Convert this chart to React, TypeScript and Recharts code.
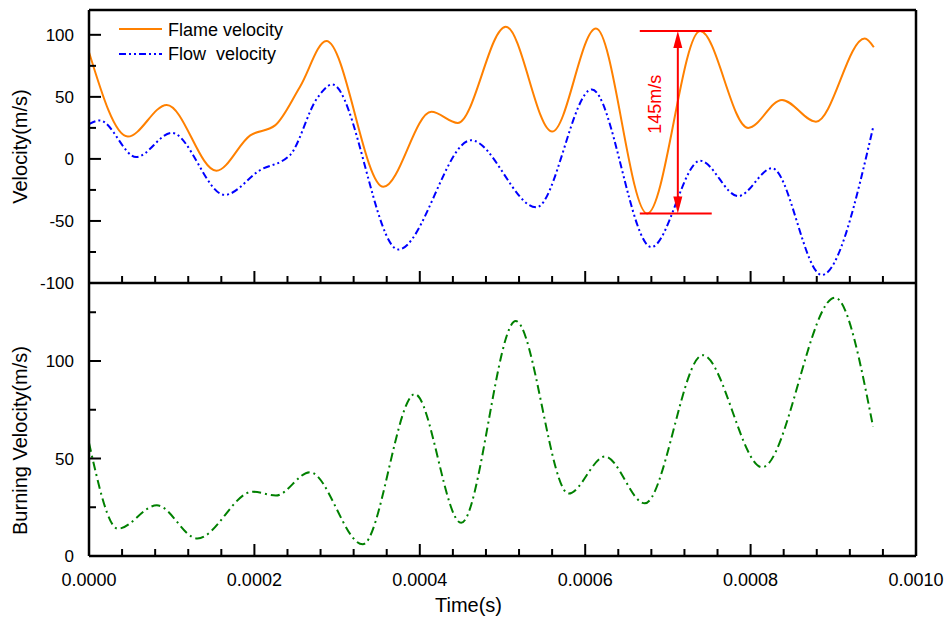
import React from "react";
import { LineChart, Line, XAxis, YAxis, ReferenceLine, Legend } from "recharts";

const FONT = '"Liberation Sans", Arial, Helvetica, sans-serif';
const ORANGE = "#FF8000";
const BLUE = "#0000FF";
const GREEN = "#008000";
const RED = "#FF0000";

// time in seconds
const FLAME_T = [0, 47e-6, 94e-6, 154e-6, 195e-6, 225e-6, 255e-6, 287e-6, 356e-6, 414e-6, 446e-6, 504e-6, 560e-6, 613e-6, 675e-6, 739e-6, 797e-6, 838e-6, 879e-6, 938e-6, 949e-6];
const FLAME_V = [86, 18, 43.5, -9.5, 19, 27, 58, 95, -22.5, 38, 29, 106.5, 22, 105, -44, 103, 25, 47.5, 30, 97, 90];

const FLOW_T = [0, 13e-6, 57e-6, 100e-6, 164e-6, 207e-6, 243e-6, 276e-6, 294e-6, 374e-6, 462e-6, 541e-6, 608e-6, 680e-6, 739e-6, 785e-6, 826e-6, 886e-6, 948e-6];
const FLOW_V = [28, 31, 1.5, 21, -29, -9, 3, 49, 60, -73, 15, -39, 56, -71, -1.5, -30, -7.5, -93.5, 25];

const BURN_T = [0, 35e-6, 82e-6, 131e-6, 198e-6, 226e-6, 267e-6, 331e-6, 394e-6, 450e-6, 516e-6, 580e-6, 624e-6, 672e-6, 742e-6, 814e-6, 902e-6, 948e-6];
const BURN_V = [58, 14, 26, 9, 33, 31, 43, 6, 83, 17, 120.5, 32, 51, 27, 103, 45.5, 132.5, 66.5];

const X_TICKS = [
  0, 0.00004, 0.00008, 0.00012, 0.00016, 0.0002, 0.00024, 0.00028, 0.00032, 0.00036,
  0.0004, 0.00044, 0.00048, 0.00052, 0.00056, 0.0006, 0.00064, 0.00068, 0.00072, 0.00076,
  0.0008, 0.00084, 0.00088, 0.00092, 0.00096, 0.001,
];
const VEL_TICKS = [-100, -75, -50, -25, 0, 25, 50, 75, 100];
const BURN_TICKS = [0, 25, 50, 75, 100, 125];

// the 145 m/s span marker
const SPAN_X = [666e-6, 753e-6];
const SPAN_Y = [103, -44];
const ARROW_X = 712e-6;
const SPAN_LABEL = "145m/s";

const flame = FLAME_T.map((t, i) => ({ t, v: FLAME_V[i] }));
const flow = FLOW_T.map((t, i) => ({ t, v: FLOW_V[i] }));
const burn = BURN_T.map((t, i) => ({ t, v: BURN_V[i] }));

const AXIS = { stroke: "#000", strokeWidth: 2.5 };

const XTick = ({ x, y, payload, index, labels }: any) => {
  const major = index % 5 === 0;
  return (
    <g>
      <line x1={x} x2={x} y1={y} y2={y - (major ? 12 : 7)} stroke="#000" strokeWidth={2} />
      {labels && major && (
        <text x={x} y={y + 30} textAnchor="middle" fontSize={18} fill="#000">
          {Number(payload.value).toFixed(4)}
        </text>
      )}
    </g>
  );
};

const YTick = ({ x, y, payload }: any) => {
  const major = payload.value % 50 === 0;
  return (
    <g>
      <line x1={x} x2={x + (major ? 12 : 7)} y1={y} y2={y} stroke="#000" strokeWidth={2} />
      {major && (
        <text x={x - 15} y={y + 6} textAnchor="end" fontSize={17} fill="#000">
          {payload.value}
        </text>
      )}
    </g>
  );
};

const yTitle = (text: string, dy: number) => (p: any) => {
  const vb = p.viewBox || {};
  const cy = (vb.y ?? 0) + (vb.height ?? 0) / 2 + dy;
  return (
    <text x={27} y={cy} transform={`rotate(-90 27 ${cy})`} textAnchor="middle" fontSize={20} fill="#000">
      {text}
    </text>
  );
};

const ArrowShape = (p: any) => {
  const x = p.x1;
  const top = Math.min(p.y1, p.y2);
  const bot = Math.max(p.y1, p.y2);
  const mid = (top + bot) / 2;
  return (
    <g>
      <line x1={x} x2={x} y1={top + 10} y2={bot - 10} stroke={RED} strokeWidth={2} />
      <polygon points={`${x},${top} ${x - 4.5},${top + 17} ${x + 4.5},${top + 17}`} fill={RED} />
      <polygon points={`${x},${bot} ${x - 4.5},${bot - 17} ${x + 4.5},${bot - 17}`} fill={RED} />
      <text x={x - 17} y={mid - 18} transform={`rotate(-90 ${x - 17} ${mid - 18})`} textAnchor="middle" fontSize={18} fill={RED}>
        {SPAN_LABEL}
      </text>
    </g>
  );
};

const LegendBox = () => (
  <svg width={200} height={52} style={{ fontFamily: FONT, display: "block" }}>
    <line x1={4} x2={47} y1={14} y2={14} stroke={ORANGE} strokeWidth={2} />
    <text x={53} y={21} fontSize={18} fill="#000">Flame velocity</text>
    <line x1={4} x2={47} y1={39} y2={39} stroke={BLUE} strokeWidth={2} strokeDasharray="7 3 2 3 2 3" />
    <text x={53} y={45} fontSize={18} fill="#000" xmlSpace="preserve" style={{ whiteSpace: "pre" }}>Flow  velocity</text>
  </svg>
);

export default function App() {
  return (
    <div style={{ position: "absolute", left: 0, top: 0, width: 949, height: 622, background: "#fff", fontFamily: FONT }}>
      <div style={{ position: "absolute", left: 0, top: 0 }}>
        <LineChart width={949} height={622} margin={{ top: 9, right: 32, bottom: 338, left: 0 }}>
          <XAxis type="number" dataKey="t" domain={[0, 0.001]} ticks={X_TICKS} interval={0} height={1} tickSize={0} tickMargin={0} tickLine={false} axisLine={AXIS} tick={(p: any) => <XTick {...p} />} allowDataOverflow />
          <XAxis xAxisId="top" orientation="top" type="number" domain={[0, 0.001]} height={1} tick={false} tickLine={false} axisLine={AXIS} />
          <YAxis type="number" domain={[-100, 120]} ticks={VEL_TICKS} interval={0} width={89} tickSize={0} tickMargin={0} tickLine={false} axisLine={AXIS} tick={(p: any) => <YTick {...p} />} label={yTitle("Velocity(m/s)", 0)} allowDataOverflow />
          <YAxis yAxisId="right" orientation="right" type="number" domain={[0, 1]} width={1} tick={false} tickLine={false} axisLine={AXIS} />
          <Legend layout="vertical" align="center" verticalAlign="middle" wrapperStyle={{ left: 115, top: 15, width: 200 }} content={() => <LegendBox />} />
          <Line data={flame} dataKey="v" type="monotone" stroke={ORANGE} strokeWidth={2} dot={false} isAnimationActive={false} />
          <Line data={flow} dataKey="v" type="monotone" stroke={BLUE} strokeWidth={2} strokeDasharray="7 3 2 3 2 3" dot={false} isAnimationActive={false} />
          <ReferenceLine segment={[{ x: SPAN_X[0], y: SPAN_Y[0] }, { x: SPAN_X[1], y: SPAN_Y[0] }]} stroke={RED} strokeWidth={2} />
          <ReferenceLine segment={[{ x: SPAN_X[0], y: SPAN_Y[1] }, { x: SPAN_X[1], y: SPAN_Y[1] }]} stroke={RED} strokeWidth={2} />
          <ReferenceLine segment={[{ x: ARROW_X, y: SPAN_Y[0] }, { x: ARROW_X, y: SPAN_Y[1] }]} stroke={RED} shape={ArrowShape} />
        </LineChart>
      </div>
      <div style={{ position: "absolute", left: 0, top: 0 }}>
        <LineChart width={949} height={622} margin={{ top: 283, right: 32, bottom: 16, left: 0 }}>
          <XAxis
            type="number" dataKey="t" domain={[0, 0.001]} ticks={X_TICKS} interval={0} height={50} tickSize={0} tickMargin={0} tickLine={false} axisLine={AXIS}
            tick={(p: any) => <XTick {...p} labels />} allowDataOverflow
            label={(p: any) => {
              const vb = p.viewBox || {};
              return (
                <text x={(vb.x ?? 0) + (vb.width ?? 0) / 2 - 34} y={(vb.y ?? 0) + 56} textAnchor="middle" fontSize={20} fill="#000">
                  Time(s)
                </text>
              );
            }}
          />
          <YAxis type="number" domain={[0, 140]} ticks={BURN_TICKS} interval={0} width={89} tickSize={0} tickMargin={0} tickLine={false} axisLine={AXIS} tick={(p: any) => <YTick {...p} />} label={yTitle("Burning Velocity(m/s)", 21)} allowDataOverflow />
          <YAxis yAxisId="right" orientation="right" type="number" domain={[0, 1]} width={1} tick={false} tickLine={false} axisLine={AXIS} />
          <Line data={burn} dataKey="v" type="monotone" stroke={GREEN} strokeWidth={2} strokeDasharray="9 4 2 4" dot={false} isAnimationActive={false} />
        </LineChart>
      </div>
    </div>
  );
}
